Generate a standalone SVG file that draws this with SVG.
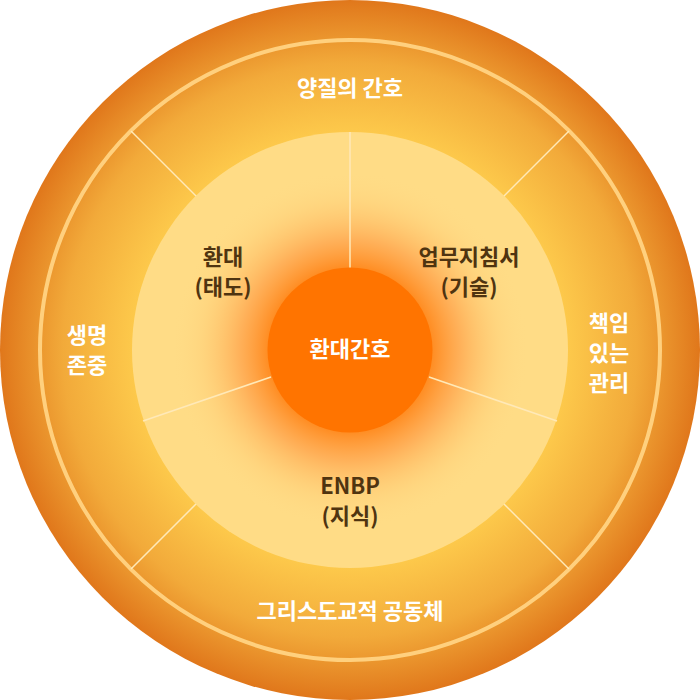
<svg xmlns="http://www.w3.org/2000/svg" width="700" height="700" viewBox="0 0 700 700">
  <defs>
    <radialGradient id="outerGrad" cx="350" cy="350" r="350" gradientUnits="userSpaceOnUse">
      <stop offset="0" stop-color="#FFD060"/>
      <stop offset="0.62" stop-color="#FDC94B"/>
      <stop offset="0.82" stop-color="#F2AA3A"/>
      <stop offset="1" stop-color="#E0771B"/>
    </radialGradient>
    <radialGradient id="glowGrad" cx="350" cy="350" r="200" gradientUnits="userSpaceOnUse">
      <stop offset="0.40" stop-color="#FF8A1E" stop-opacity="1"/>
      <stop offset="0.55" stop-color="#FFA24A" stop-opacity="0.75"/>
      <stop offset="0.75" stop-color="#FFC870" stop-opacity="0.3"/>
      <stop offset="0.9" stop-color="#FFDD88" stop-opacity="0"/>
    </radialGradient>
    <style>
      .lbl { font-family: "Noto Sans CJK KR", "Noto Sans", sans-serif; font-size: 22px; text-anchor: middle; }
      .white { fill: #FFFFFF; font-weight: 700; }
      .dark { fill: #4F3410; font-weight: 700; }
      .div { stroke: #FFE9B8; stroke-width: 1.5; fill: none; }
    </style>
  </defs>

  <g id="outer-ring">
    <circle cx="350" cy="350" r="350" fill="url(#outerGrad)"/>
    <circle cx="350" cy="350" r="310" fill="none" stroke="#FFD07E" stroke-width="4"/>
  </g>

  <g id="inner-disc">
    <circle cx="350" cy="350" r="218" fill="#FFDC86"/>
    <circle cx="350" cy="350" r="200" fill="url(#glowGrad)"/>
  </g>

  <g id="connectors">
    <line class="div" x1="131" y1="131" x2="196" y2="196"/>
    <line class="div" x1="569" y1="131" x2="504" y2="196"/>
    <line class="div" x1="131" y1="569" x2="196" y2="504"/>
    <line class="div" x1="569" y1="569" x2="504" y2="504"/>
    <line class="div" x1="350" y1="132" x2="350" y2="268"/>
    <line class="div" x1="143" y1="421" x2="271" y2="377"/>
    <line class="div" x1="557" y1="421" x2="429" y2="377"/>
  </g>

  <g id="node-quality">
    <text class="lbl white" x="350" y="96">양질의 간호</text>
  </g>
  <g id="node-respect">
    <text class="lbl white" x="87" y="343">생명</text>
    <text class="lbl white" x="87" y="373">존중</text>
  </g>
  <g id="node-responsible">
    <text class="lbl white" x="609" y="331">책임</text>
    <text class="lbl white" x="609" y="361">있는</text>
    <text class="lbl white" x="609" y="391">관리</text>
  </g>
  <g id="node-community">
    <text class="lbl white" x="350" y="619">그리스도교적 공동체</text>
  </g>
  <g id="node-attitude">
    <text class="lbl dark" x="223" y="265">환대</text>
    <text class="lbl dark" x="223" y="295">(태도)</text>
  </g>
  <g id="node-skill">
    <text class="lbl dark" x="469" y="265">업무지침서</text>
    <text class="lbl dark" x="469" y="295">(기술)</text>
  </g>
  <g id="node-knowledge">
    <text class="lbl dark" x="350" y="494">ENBP</text>
    <text class="lbl dark" x="350" y="524">(지식)</text>
  </g>
  <g id="node-center">
    <circle cx="350" cy="350" r="82.5" fill="#FF7400"/>
    <text class="lbl white" x="350" y="357">환대간호</text>
  </g>
</svg>
